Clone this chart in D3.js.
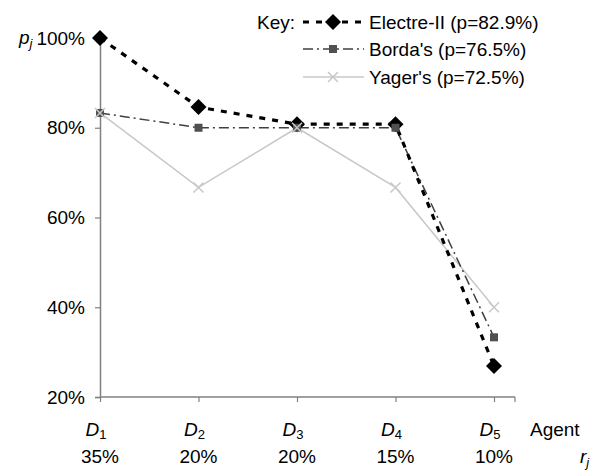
<!DOCTYPE html>
<html><head><meta charset="utf-8">
<script src="https://cdn.jsdelivr.net/npm/d3@7"></script>
<style>body{margin:0;background:#fff}svg text{font-family:"Liberation Sans",Arial,sans-serif}</style>
</head><body>
<svg id="c" width="608" height="471"></svg>
<script>
const agents = ["1","2","3","4","5"];
const weights = ["35%","20%","20%","15%","10%"];
const electre = [100, 84.6, 80.8, 80.8, 26.9];
const borda = [83.3, 80, 80, 80, 33.3];
const yager = [83.3, 66.7, 80, 66.7, 40];
const yTicks = [20, 40, 60, 80, 100];
const seriesNames = ["Electre-II (p=82.9%)", "Borda's (p=76.5%)", "Yager's (p=72.5%)"];

const FF = "'Liberation Sans', Arial, sans-serif";
const FS = 19;
const svg = d3.select("#c");
const x = d3.scalePoint().domain(agents).range([100, 494]);
const y = d3.scaleLinear().domain([20, 100]).range([397, 38]);
const axisColor = "#808080";

// y axis
const ya = svg.append("g").attr("transform","translate(100,0)")
  .call(d3.axisLeft(y).tickValues(yTicks).tickSize(5).tickPadding(10).tickFormat(d => d + "%"));
ya.attr("font-family", FF).attr("font-size", FS);
ya.select(".domain").attr("stroke", axisColor).attr("stroke-width", 1.5);
ya.selectAll(".tick line").attr("stroke", axisColor).attr("stroke-width", 1.2);
ya.selectAll(".tick text").attr("fill","#000");

// x axis
const xa = svg.append("g").attr("transform","translate(0,397)")
  .call(d3.axisBottom(x).tickSize(5).tickFormat(""));
xa.select(".domain").remove();
xa.selectAll(".tick line").attr("stroke", axisColor).attr("stroke-width", 1.2);
svg.append("line").attr("x1",100).attr("x2",515).attr("y1",397).attr("y2",397).attr("stroke",axisColor).attr("stroke-width",1.5);
svg.append("line").attr("x1",515).attr("x2",515).attr("y1",397).attr("y2",402).attr("stroke",axisColor).attr("stroke-width",1.2);

const T = (sel) => sel.attr("font-family", FF).attr("font-size", FS).attr("fill","#000");

// category labels
const dl = T(svg.append("g").selectAll("text").data(agents).join("text"))
  .attr("x", d => x(d) - 4).attr("y", 436).attr("text-anchor","middle");
dl.append("tspan").attr("font-style","italic").text("D");
dl.append("tspan").attr("font-size",13).attr("dy",3).text(d => d);
T(svg.append("g").selectAll("text").data(weights).join("text"))
  .attr("x", (d,i) => x(agents[i])).attr("y", 463).attr("text-anchor","middle").text(d => d);
T(svg.append("text")).attr("x",530).attr("y",436).text("Agent");
const rj = T(svg.append("text")).attr("x",580).attr("y",463);
rj.append("tspan").attr("font-style","italic").text("r");
rj.append("tspan").attr("font-style","italic").attr("font-size",13).attr("dy",4).text("j");
const pj = T(svg.append("text")).attr("x",19).attr("y",44);
pj.append("tspan").attr("font-style","italic").text("p");
pj.append("tspan").attr("font-style","italic").attr("font-size",13).attr("dy",4).text("j");

const line = d3.line().x((d,i) => x(agents[i])).y(d => y(d));
const styles = [
  {data: electre, stroke:"#000", w:3.2, dash:"6,7", marker:"diamond", fill:"#000"},
  {data: borda, stroke:"#404040", w:1.5, dash:"10,4,2,4", marker:"square", fill:"#505050"},
  {data: yager, stroke:"#c8c8c8", w:1.5, dash:null, marker:"x", fill:"#c8c8c8"}
];

function drawMarker(g, type, cx, cy, s){
  if(type==="diamond"){
    g.append("path").attr("d", `M${cx},${cy-8}L${cx+8},${cy}L${cx},${cy+8}L${cx-8},${cy}Z`).attr("fill",s.fill);
  } else if(type==="square"){
    g.append("rect").attr("x",cx-4).attr("y",cy-4).attr("width",8).attr("height",8).attr("fill",s.fill);
  } else {
    g.append("path").attr("d", `M${cx-5},${cy-5}L${cx+5},${cy+5}M${cx-5},${cy+5}L${cx+5},${cy-5}`)
      .attr("stroke",s.fill).attr("stroke-width",1.5).attr("fill","none");
  }
}

[2,1,0].forEach(k => {
  const s = styles[k];
  svg.append("path").attr("d", line(s.data)).attr("fill","none").attr("stroke",s.stroke)
    .attr("stroke-width",s.w).attr("stroke-dasharray",s.dash);
});
[0,1,2].forEach(k => {
  const s = styles[k];
  const g = svg.append("g");
  s.data.forEach((v,i) => drawMarker(g, s.marker, x(agents[i]), y(v), s));
});

// legend
T(svg.append("text")).attr("x",257).attr("y",29).text("Key:");
const ly = [22, 49, 77];
styles.forEach((s,k) => {
  const g = svg.append("g");
  g.append("line").attr("x1",303).attr("x2",364).attr("y1",ly[k]).attr("y2",ly[k])
    .attr("stroke",s.stroke).attr("stroke-width",s.w).attr("stroke-dasharray",s.dash);
  drawMarker(g, s.marker, 333, ly[k], s);
  T(g.append("text")).attr("x",369).attr("y",ly[k]+7).text(seriesNames[k]);
});
</script>
</body></html>
